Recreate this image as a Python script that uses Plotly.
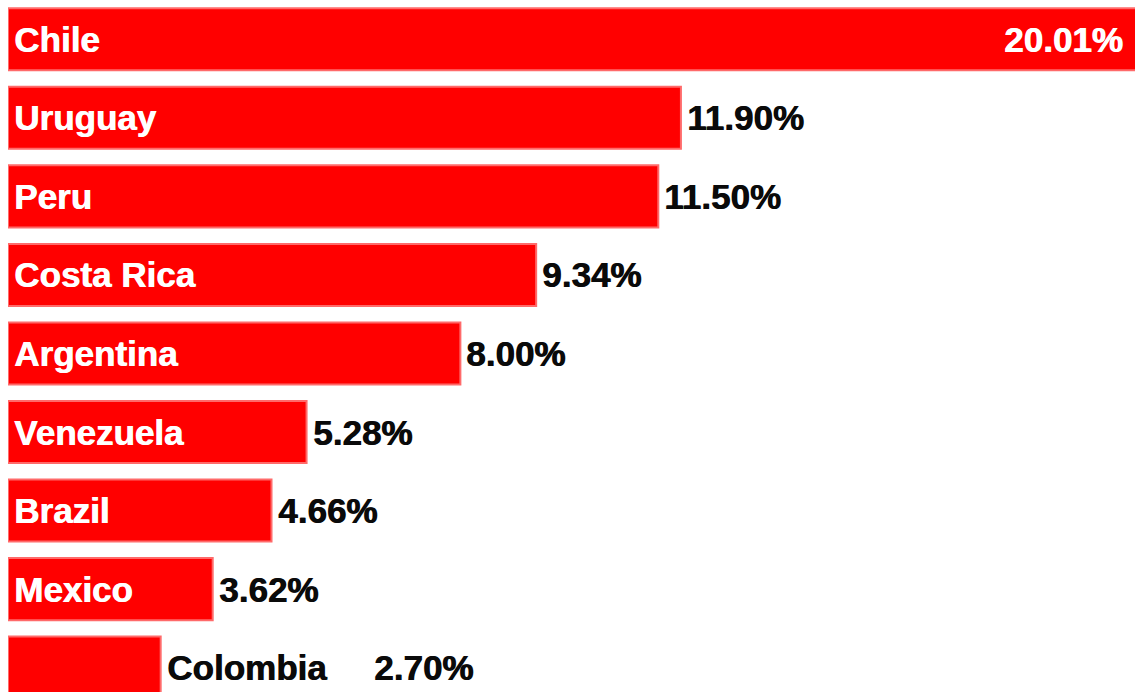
import plotly.graph_objects as go

countries = ["Chile", "Uruguay", "Peru", "Costa Rica", "Argentina",
             "Venezuela", "Brazil", "Mexico", "Colombia"]
shares = [20.01, 11.90, 11.50, 9.34, 8.00, 5.28, 4.66, 3.62, 2.70]
value_labels = ["20.01%", "11.90%", "11.50%", "9.34%", "8.00%",
                "5.28%", "4.66%", "3.62%", "2.70%"]

RED = "#ff0000"
FONT = "Liberation Sans"
SIZE = 35
DARK = "#0a0a0a"


def label_font(color):
    # a thin shadow in the same colour gives the heavy, poster-like weight
    return dict(family=FONT, size=SIZE, color=color,
                shadow=f"0.8px 0px 0px {color}")


fig = go.Figure(go.Bar(
    x=shares,
    y=countries,
    orientation="h",
    marker=dict(color=RED, line=dict(color="#ff6a6a", width=2)),
    hoverinfo="skip",
))

annotations = []
n = len(countries)
for i, (name, val, lab) in enumerate(zip(countries, shares, value_labels)):
    last = i == n - 1
    # country name: inside the bar, or right after it when the bar is too short
    annotations.append(dict(
        x=val if last else 0, y=name, xref="x", yref="y",
        text=f"<b>{name}</b>", showarrow=False,
        xanchor="left", yanchor="middle", xshift=4,
        font=label_font(DARK if last else "white"),
    ))
    if i == 0:
        # widest bar runs to the edge, its value sits inside in white
        annotations.append(dict(
            x=1, y=name, xref="paper", yref="y",
            text=f"<b>{lab}</b>", showarrow=False,
            xanchor="right", yanchor="middle", xshift=-10,
            font=label_font("white"),
        ))
    else:
        annotations.append(dict(
            x=val, y=name, xref="x", yref="y",
            text=f"<b>{lab}</b>", showarrow=False,
            xanchor="left", yanchor="middle", xshift=211 if last else 4,
            font=label_font(DARK),
        ))

fig.update_layout(
    width=1135, height=692,
    margin=dict(l=8, r=0, t=0, b=0),
    paper_bgcolor="white", plot_bgcolor="white",
    bargap=0.21,
    showlegend=False,
    annotations=annotations,
    xaxis=dict(range=[0, 19.93], visible=False, fixedrange=True),
    yaxis=dict(range=[8.31, -0.5], visible=False, fixedrange=True),
)

fig.write_html("out.html", config={"displayModeBar": False})
